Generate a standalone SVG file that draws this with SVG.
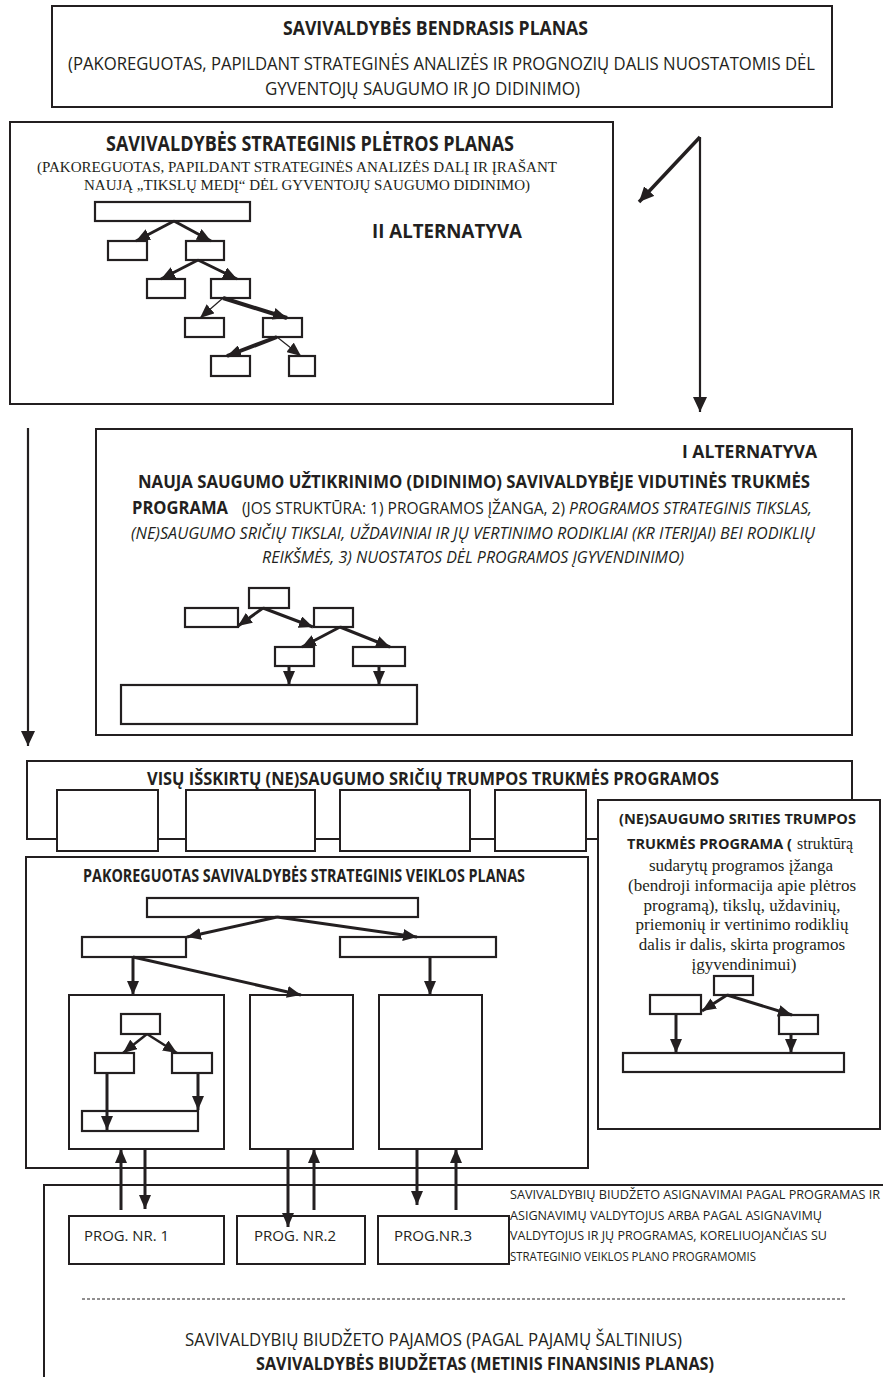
<svg xmlns="http://www.w3.org/2000/svg" width="883" height="1377" viewBox="0 0 883 1377">
<style>
.bx{fill:#fff;stroke:#231f20;stroke-width:2}
.sm{fill:#fff;stroke:#231f20;stroke-width:2.2}
.c{fill:none;stroke:#231f20;stroke-width:3;marker-end:url(#ah)}
.c1{fill:none;stroke:#231f20;stroke-width:1.2;marker-end:url(#ah)}
.c4{fill:none;stroke:#231f20;stroke-width:4;marker-end:url(#ah)}
.cl{fill:none;stroke:#231f20;stroke-width:2.2;marker-end:url(#ahL)}
.t{font-family:"Open Sans","Liberation Sans",sans-serif;fill:#231f20}
.b{font-family:"Open Sans","Liberation Sans",sans-serif;font-weight:700;fill:#231f20}
.i{font-family:"Open Sans","Liberation Sans",sans-serif;font-style:italic;fill:#231f20}
.r{font-family:"Liberation Serif","Times New Roman",serif;fill:#231f20}
</style>
<defs>
<marker id="ah" viewBox="0 0 14 12" refX="14" refY="6" markerWidth="14" markerHeight="12" markerUnits="userSpaceOnUse" orient="auto"><path d="M0,0 L14,6 L0,12 z" fill="#231f20"/></marker>
<marker id="ahL" viewBox="0 0 15 14" refX="15" refY="7" markerWidth="15" markerHeight="14" markerUnits="userSpaceOnUse" orient="auto"><path d="M0,0 L15,7 L0,14 z" fill="#231f20"/></marker>
</defs>

<g id="bendrasis-planas">
<rect class="bx" x="52" y="6" width="780" height="101"/>
<text class="b" x="283" y="35" font-size="19" textLength="305" lengthAdjust="spacingAndGlyphs">SAVIVALDYBĖS BENDRASIS PLANAS</text>
<text class="t" x="68" y="70" font-size="17.5" textLength="747" lengthAdjust="spacingAndGlyphs">(PAKOREGUOTAS, PAPILDANT STRATEGINĖS ANALIZĖS IR PROGNOZIŲ DALIS NUOSTATOMIS DĖL</text>
<text class="t" x="265" y="95" font-size="17.5" textLength="315" lengthAdjust="spacingAndGlyphs">GYVENTOJŲ SAUGUMO IR JO DIDINIMO)</text>
</g>

<g id="pletros-planas">
<rect class="bx" x="10" y="122" width="603" height="282"/>
<text class="b" x="106" y="151" font-size="21.5" textLength="408" lengthAdjust="spacingAndGlyphs">SAVIVALDYBĖS STRATEGINIS PLĖTROS PLANAS</text>
<text class="r" x="37" y="172" font-size="15" textLength="520" lengthAdjust="spacingAndGlyphs">(PAKOREGUOTAS, PAPILDANT STRATEGINĖS ANALIZĖS DALĮ IR ĮRAŠANT</text>
<text class="r" x="84" y="190" font-size="15" textLength="446" lengthAdjust="spacingAndGlyphs">NAUJĄ „TIKSLŲ MEDĮ“ DĖL GYVENTOJŲ SAUGUMO DIDINIMO)</text>
<text class="b" x="372" y="238" font-size="19.5" textLength="150" lengthAdjust="spacingAndGlyphs">II ALTERNATYVA</text>
<rect class="sm" x="95" y="202" width="155" height="19"/>
<rect class="sm" x="108" y="241" width="39" height="19"/>
<rect class="sm" x="186" y="241" width="38" height="19"/>
<rect class="sm" x="147" y="279" width="38" height="19"/>
<rect class="sm" x="211" y="279" width="39" height="19"/>
<rect class="sm" x="185" y="318" width="39" height="19"/>
<rect class="sm" x="263" y="318" width="39" height="19"/>
<rect class="sm" x="211" y="356" width="39" height="20"/>
<rect class="sm" x="289" y="356" width="26" height="20"/>
</g>

<g id="i-alternatyva">
<rect class="bx" x="96" y="429" width="756" height="306"/>
<text class="b" x="682" y="458" font-size="18.5" textLength="135" lengthAdjust="spacingAndGlyphs">I ALTERNATYVA</text>
<text class="b" x="138" y="488" font-size="18.5" textLength="672" lengthAdjust="spacingAndGlyphs">NAUJA SAUGUMO UŽTIKRINIMO (DIDINIMO) SAVIVALDYBĖJE  VIDUTINĖS TRUKMĖS</text>
<text class="b" x="132" y="514" font-size="18.5" textLength="96" lengthAdjust="spacingAndGlyphs">PROGRAMA</text>
<text class="t" x="242" y="514" font-size="16" textLength="323" lengthAdjust="spacingAndGlyphs">(JOS STRUKTŪRA:  1) PROGRAMOS ĮŽANGA, 2)</text>
<text class="i" x="569" y="514" font-size="16" textLength="243" lengthAdjust="spacingAndGlyphs">PROGRAMOS STRATEGINIS TIKSLAS,</text>
<text class="i" x="131" y="539" font-size="16" textLength="684" lengthAdjust="spacingAndGlyphs">(NE)SAUGUMO SRIČIŲ TIKSLAI, UŽDAVINIAI IR JŲ VERTINIMO RODIKLIAI (KR ITERIJAI) BEI RODIKLIŲ</text>
<text class="i" x="262" y="563" font-size="16" textLength="422" lengthAdjust="spacingAndGlyphs">REIKŠMĖS, 3) NUOSTATOS DĖL PROGRAMOS ĮGYVENDINIMO)</text>
<rect class="sm" x="249" y="588" width="40" height="20"/>
<rect class="sm" x="185" y="608" width="53" height="19"/>
<rect class="sm" x="314" y="608" width="39" height="19"/>
<rect class="sm" x="275" y="647" width="39" height="19"/>
<rect class="sm" x="353" y="647" width="52" height="19"/>
<rect class="sm" x="121" y="685" width="296" height="39"/>
</g>

<g id="trumpos-programos">
<path d="M598,839 H27 V761 H852 V800" fill="none" stroke="#231f20" stroke-width="2"/>
<text class="b" x="147" y="785" font-size="18.5" textLength="572" lengthAdjust="spacingAndGlyphs">VISŲ IŠSKIRTŲ (NE)SAUGUMO SRIČIŲ TRUMPOS TRUKMĖS PROGRAMOS</text>
<rect class="bx" x="57" y="790" width="101" height="61"/>
<rect class="bx" x="186" y="790" width="129" height="61"/>
<rect class="bx" x="340" y="790" width="130" height="61"/>
<rect class="bx" x="495" y="790" width="91" height="61"/>
</g>

<g id="srities-programa">
<rect class="bx" x="598" y="800" width="282" height="329"/>
<text class="b" x="619" y="824" font-size="15" textLength="237" lengthAdjust="spacingAndGlyphs">(NE)SAUGUMO SRITIES TRUMPOS</text>
<text class="b" x="627" y="849" font-size="15" textLength="165" lengthAdjust="spacingAndGlyphs">TRUKMĖS PROGRAMA (</text>
<text class="r" x="797" y="849" font-size="16" textLength="56" lengthAdjust="spacingAndGlyphs">struktūrą</text>
<text class="r" x="741" y="871" font-size="17" text-anchor="middle">sudarytų programos įžanga</text>
<text class="r" x="742" y="891" font-size="17" text-anchor="middle">(bendroji informacija apie plėtros</text>
<text class="r" x="742" y="911" font-size="17" text-anchor="middle">programą), tikslų, uždavinių,</text>
<text class="r" x="742" y="930" font-size="17" text-anchor="middle">priemonių ir vertinimo rodiklių</text>
<text class="r" x="742" y="950" font-size="17" text-anchor="middle">dalis ir dalis, skirta programos</text>
<text class="r" x="744" y="970" font-size="17" text-anchor="middle">įgyvendinimui)</text>
<rect class="sm" x="714" y="976" width="39" height="19"/>
<rect class="sm" x="650" y="995" width="51" height="19"/>
<rect class="sm" x="779" y="1015" width="39" height="19"/>
<rect class="sm" x="623" y="1053" width="221" height="19"/>
</g>

<g id="veiklos-planas">
<rect class="bx" x="26" y="857" width="562" height="311"/>
<text class="b" x="83" y="882" font-size="17" textLength="442" lengthAdjust="spacingAndGlyphs">PAKOREGUOTAS  SAVIVALDYBĖS STRATEGINIS VEIKLOS PLANAS</text>
<rect class="sm" x="147" y="898" width="271" height="19"/>
<rect class="sm" x="82" y="937" width="104" height="20"/>
<rect class="sm" x="340" y="937" width="156" height="20"/>
<rect class="bx" x="69" y="995" width="155" height="154"/>
<rect class="bx" x="250" y="995" width="103" height="154"/>
<rect class="bx" x="379" y="995" width="103" height="154"/>
<rect class="sm" x="121" y="1014" width="39" height="20"/>
<rect class="sm" x="95" y="1053" width="39" height="20"/>
<rect class="sm" x="172" y="1053" width="40" height="20"/>
<rect class="sm" x="82" y="1111" width="116" height="20"/>
</g>

<g id="biudzetas">
<rect class="bx" x="44" y="1185" width="860" height="250"/>
<rect class="bx" x="69" y="1216" width="155" height="48"/>
<rect class="bx" x="237" y="1216" width="128" height="48"/>
<rect class="bx" x="378" y="1216" width="131" height="48"/>
<text class="t" x="84" y="1241" font-size="15" textLength="85" lengthAdjust="spacingAndGlyphs">PROG. NR. 1</text>
<text class="t" x="254" y="1241" font-size="15" textLength="82" lengthAdjust="spacingAndGlyphs">PROG. NR.2</text>
<text class="t" x="394" y="1241" font-size="15" textLength="78" lengthAdjust="spacingAndGlyphs">PROG.NR.3</text>
<text class="t" x="510" y="1199" font-size="12.5" textLength="370" lengthAdjust="spacingAndGlyphs">SAVIVALDYBIŲ BIUDŽETO  ASIGNAVIMAI  PAGAL PROGRAMAS IR</text>
<text class="t" x="510" y="1220" font-size="12.5" textLength="312" lengthAdjust="spacingAndGlyphs">ASIGNAVIMŲ VALDYTOJUS ARBA PAGAL ASIGNAVIMŲ</text>
<text class="t" x="510" y="1240" font-size="12.5" textLength="317" lengthAdjust="spacingAndGlyphs">VALDYTOJUS IR JŲ PROGRAMAS, KORELIUOJANČIAS SU</text>
<text class="t" x="510" y="1261" font-size="12.5" textLength="246" lengthAdjust="spacingAndGlyphs">STRATEGINIO VEIKLOS PLANO PROGRAMOMIS</text>
<line x1="82" y1="1299" x2="845" y2="1299" stroke="#231f20" stroke-width="1" stroke-dasharray="3 2"/>
<text class="t" x="185" y="1346" font-size="18.5" textLength="497" lengthAdjust="spacingAndGlyphs">SAVIVALDYBIŲ BIUDŽETO PAJAMOS (PAGAL PAJAMŲ ŠALTINIUS)</text>
<text class="b" x="256" y="1370" font-size="18.5" textLength="458" lengthAdjust="spacingAndGlyphs">SAVIVALDYBĖS BIUDŽETAS (METINIS FINANSINIS PLANAS)</text>
</g>

<g id="connectors">
<line class="cl" x1="28" y1="428" x2="28" y2="746"/>
<line class="cl" x1="700" y1="137" x2="700" y2="412"/>
<line class="cl" style="stroke-width:3.5" x1="700" y1="137" x2="639" y2="202"/>
<line class="c" x1="174" y1="221" x2="136" y2="241"/>
<line class="c" x1="174" y1="221" x2="211" y2="241"/>
<line class="c" x1="198" y1="260" x2="161" y2="279"/>
<line class="c" x1="198" y1="260" x2="237" y2="279"/>
<line class="c1" x1="223" y1="298" x2="200" y2="318"/>
<line class="c4" x1="223" y1="298" x2="287" y2="318"/>
<line class="c4" x1="277" y1="337" x2="227" y2="356"/>
<line class="c1" x1="277" y1="337" x2="301" y2="356"/>
<line class="c" x1="263" y1="608" x2="238" y2="626"/>
<line class="c" x1="263" y1="608" x2="313" y2="627"/>
<line class="c" x1="340" y1="627" x2="302" y2="647"/>
<line class="c" x1="340" y1="627" x2="390" y2="647"/>
<line class="c" x1="289" y1="666" x2="289" y2="685"/>
<line class="c" x1="379" y1="666" x2="379" y2="685"/>
<line class="c" x1="727" y1="995" x2="702" y2="1011"/>
<line class="c" x1="727" y1="995" x2="792" y2="1015"/>
<line class="c" x1="676" y1="1014" x2="676" y2="1053"/>
<line class="c" x1="791" y1="1034" x2="791" y2="1053"/>
<line class="c" x1="277" y1="917" x2="187" y2="937"/>
<line class="c" x1="277" y1="917" x2="417" y2="937"/>
<line class="c" x1="133" y1="957" x2="133" y2="995"/>
<line class="c" x1="133" y1="957" x2="301" y2="995"/>
<line class="c" x1="430" y1="957" x2="430" y2="995"/>
<line class="c" style="stroke-width:2.5" x1="147" y1="1034" x2="123" y2="1053"/>
<line class="c" style="stroke-width:2.5" x1="147" y1="1034" x2="177" y2="1053"/>
<line class="c" x1="107" y1="1073" x2="107" y2="1130"/>
<line class="c" x1="198" y1="1073" x2="198" y2="1110"/>
<line class="c" x1="121" y1="1210" x2="121" y2="1149"/>
<line class="c" x1="145" y1="1149" x2="145" y2="1209"/>
<line class="c" x1="288" y1="1149" x2="288" y2="1227"/>
<line class="c" x1="314" y1="1210" x2="314" y2="1149"/>
<line class="c" x1="417" y1="1149" x2="417" y2="1205"/>
<line class="c" x1="456" y1="1210" x2="456" y2="1149"/>
</g>
</svg>
